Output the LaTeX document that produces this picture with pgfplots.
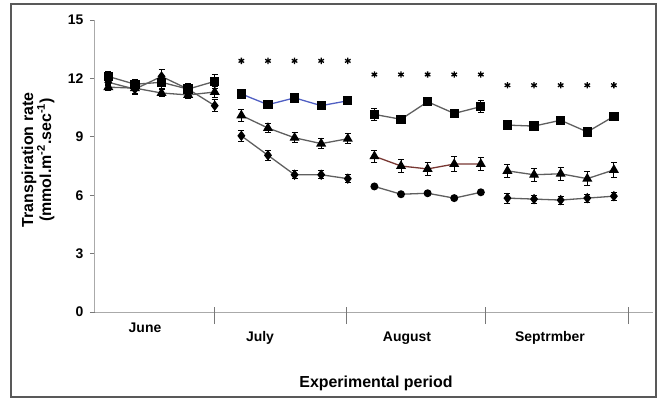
\documentclass[border=0pt]{standalone}
\usepackage{pgfplots}
\pgfplotsset{compat=1.18}
\usepackage{pgfplotstable}
\usepackage{fontspec}
\setmainfont{Liberation Sans}
\definecolor{ln}{RGB}{95,95,95}
\definecolor{bl}{RGB}{80,95,195}
\definecolor{rd}{RGB}{120,55,50}
\definecolor{ax}{RGB}{170,170,170}
\definecolor{tk}{RGB}{120,120,120}

\pgfplotstableread{
x y e
0 12.10 0.25
1 11.70 0.25
2 11.80 0.30
3 11.45 0.30
4 11.85 0.35
5 11.20 0.15
6 10.65 0.15
7 11.00 0.15
8 10.60 0.15
9 10.85 0.15
10 10.15 0.30
11 9.90 0.20
12 10.80 0.10
13 10.20 0.20
14 10.55 0.30
15 9.60 0.10
16 9.55 0.10
17 9.85 0.10
18 9.25 0.10
19 10.05 0.15
}\sq

\pgfplotstableread{
x y e
0 11.55 0.15
1 11.50 0.25
2 11.25 0.20
3 11.15 0.20
4 11.30 0.30
5 10.10 0.30
6 9.45 0.25
7 8.95 0.25
8 8.65 0.25
9 8.90 0.25
10 8.00 0.30
11 7.50 0.35
12 7.35 0.35
13 7.60 0.40
14 7.60 0.35
15 7.25 0.35
16 7.05 0.35
17 7.10 0.35
18 6.85 0.35
19 7.30 0.40
}\tri

\pgfplotstableread{
x y e
0 11.80 0.15
1 11.45 0.30
2 12.10 0.35
3 11.45 0.30
4 10.60 0.30
5 9.05 0.30
6 8.05 0.25
7 7.05 0.20
8 7.05 0.20
9 6.85 0.20
10 6.45 0.05
11 6.05 0.05
12 6.10 0.05
13 5.85 0.05
14 6.15 0.05
15 5.85 0.25
16 5.80 0.20
17 5.75 0.20
18 5.85 0.20
19 5.95 0.20
}\dia

\pgfplotstableread{
x y
5 12.9
6 12.9
7 12.9
8 12.9
9 12.9
10 12.2
11 12.2
12 12.2
13 12.2
14 12.2
15 11.65
16 11.65
17 11.65
18 11.65
19 11.65
}\stars

\begin{document}
\begin{tikzpicture}
\useasboundingbox (0bp,0bp) rectangle (657bp,-399bp);
\draw[line width=1.6bp, black!65] (11bp,-4bp) rectangle (656bp,-397bp);
\begin{axis}[
  at={(95bp,-312bp)}, anchor=south west,
  scale only axis, width=558bp, height=292bp,
  xmin=-0.5, xmax=20.47, ymin=0, ymax=15,
  axis lines=left,
  axis line style={-, draw=ax, line width=1bp},
  ytick={0,3,...,15},
  xtick=\empty,
  extra x ticks={3.98,8.97,14.16,19.56},
  extra x tick labels={},
  extra x tick style={major tick length=17bp, tick align=center,
     major x tick style={yshift=-3.5bp, draw=tk, line width=1bp}},
  tick align=outside,
  major tick length=5bp,
  y tick style={draw=tk, line width=0.8bp},
  yticklabel style={font=\fontsize{14}{14}\selectfont\bfseries, xshift=-3bp},
  /pgf/number format/assume math mode=true,
  clip=false,
  every axis plot/.append style={line width=1.3bp},
  mysq/.style={mark=square*, mark size=4bp, mark options={solid, black, fill=black}},
  mytri/.style={mark=triangle*, mark size=4.5bp, mark options={solid, black, fill=black}},
  mydia/.style={mark=diamond*, mark size=4.2bp, mark options={solid, black, fill=black}},
  mycirc/.style={mark=*, mark size=3.3bp, mark options={solid, black, fill=black}},
  eb/.style={error bars/.cd, y dir=both, y explicit,
     error bar style={black, line width=0.9bp},
     error mark options={rotate=90, black, mark size=3bp, line width=0.9bp}},
]
% squares
\addplot[ln, mysq, restrict x to domain=-1:4.5, eb] table[x=x,y=y,y error=e]{\sq};
\addplot[bl, mysq, restrict x to domain=4.5:9.5, eb] table[x=x,y=y,y error=e]{\sq};
\addplot[ln, mysq, restrict x to domain=9.5:14.5, eb] table[x=x,y=y,y error=e]{\sq};
\addplot[ln, mysq, restrict x to domain=14.5:20, eb] table[x=x,y=y,y error=e]{\sq};
% triangles
\addplot[ln, mytri, restrict x to domain=-1:4.5, eb] table[x=x,y=y,y error=e]{\tri};
\addplot[ln, mytri, restrict x to domain=4.5:9.5, eb] table[x=x,y=y,y error=e]{\tri};
\addplot[rd, mytri, restrict x to domain=9.5:14.5, eb] table[x=x,y=y,y error=e]{\tri};
\addplot[ln, mytri, restrict x to domain=14.5:20, eb] table[x=x,y=y,y error=e]{\tri};
% diamonds / circles
\addplot[ln, mydia, restrict x to domain=-1:4.5, eb] table[x=x,y=y,y error=e]{\dia};
\addplot[ln, mydia, restrict x to domain=4.5:9.5, eb] table[x=x,y=y,y error=e]{\dia};
\addplot[ln, mycirc, restrict x to domain=9.5:14.5, eb] table[x=x,y=y,y error=e]{\dia};
\addplot[ln, mydia, restrict x to domain=14.5:20, eb] table[x=x,y=y,y error=e]{\dia};
% significance stars
\addplot[only marks, mark=asterisk, mark size=3.2bp, mark options={black, line width=1.3bp}] table[x=x,y=y]{\stars};
\end{axis}
\node[font=\fontsize{14}{14}\selectfont\bfseries] at (145bp,-328bp) {June};
\node[font=\fontsize{14}{14}\selectfont\bfseries] at (260bp,-338bp) {July};
\node[font=\fontsize{14}{14}\selectfont\bfseries] at (407bp,-338bp) {August};
\node[font=\fontsize{14}{14}\selectfont\bfseries] at (550bp,-338bp) {Septrmber};
\node[font=\fontsize{16}{16}\selectfont\bfseries] at (376bp,-383bp) {Experimental period};
\node[font=\fontsize{16}{18}\selectfont\bfseries, rotate=90, align=center] at (38bp,-160bp)
  {Transpiration rate\\(mmol.m\textsuperscript{-2}.sec\textsuperscript{-1})};
\end{tikzpicture}
\end{document}
